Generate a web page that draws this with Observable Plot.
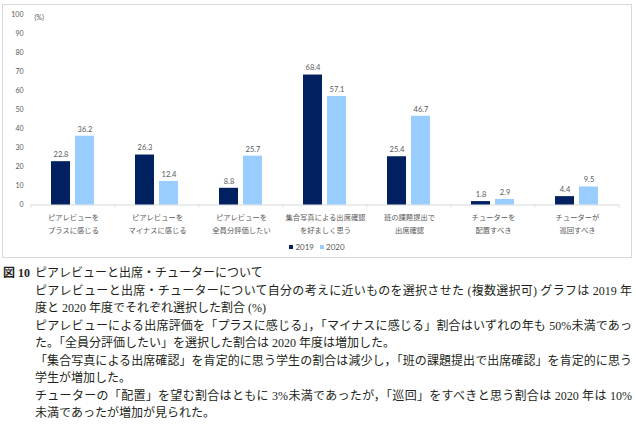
<!DOCTYPE html>
<html><head><meta charset="utf-8">
<script src="https://cdn.jsdelivr.net/npm/d3@7"></script>
<script src="https://cdn.jsdelivr.net/npm/@observablehq/plot@0.6"></script>
<style>
html,body{margin:0;padding:0;background:#fff;}
body{width:636px;height:428px;overflow:hidden;position:relative;font-family:"Noto Sans CJK JP",sans-serif;}
#box{position:absolute;left:2px;top:4px;width:628px;height:252px;border:1px solid #d9d9d9;box-sizing:content-box;}
#chart{position:absolute;left:0;top:0;}
#legend{position:absolute;left:0;top:236px;width:628px;height:12px;line-height:12px;text-align:center;font-family:Lato,"Noto Sans CJK JP",sans-serif;font-size:8px;color:#595959;}
#legend span.item{display:inline-block;margin:0 3px;}
#legend span.sw{display:inline-block;width:4px;height:4px;margin-right:2px;vertical-align:middle;position:relative;top:-1px;}
#cap{position:absolute;left:0;top:265px;width:636px;color:#231f20;font-family:"Liberation Serif","Noto Sans CJK JP",serif;font-size:12px;line-height:17.5px;}
#cap .row{position:relative;height:17.5px;white-space:nowrap;}
#cap .t{position:absolute;left:35px;width:597px;}
#cap .j{text-align:justify;text-align-last:justify;}
#cap .fig{position:absolute;left:3px;font-weight:bold;}
</style>
</head>
<body>
<div id="box">
  <div id="chart"></div>
  <div id="legend"></div>
</div>
<div id="cap"></div>
<script>
// ---- data ----
const categories = [
  "ピアレビューを\nプラスに感じる",
  "ピアレビューを\nマイナスに感じる",
  "ピアレビューを\n全員分評価したい",
  "集合写真による出席確認\nを好ましく思う",
  "班の課題提出で\n出席確認",
  "チューターを\n配置すべき",
  "チューターが\n巡回すべき"
];
const years = ["2019", "2020"];
const values2019 = [22.8, 26.3, 8.8, 68.4, 25.4, 1.8, 4.4];
const values2020 = [36.2, 12.4, 25.7, 57.1, 46.7, 2.9, 9.5];
const yTicks = [0, 10, 20, 30, 40, 50, 60, 70, 80, 90, 100];
const colors = ["#002060", "#99ccff"];
const figLabel = "図 10";
const captionLines = [
  "ピアレビューと出席・チューターについて",
  "ピアレビューと出席・チューターについて自分の考えに近いものを選択させた (複数選択可) グラフは 2019 年",
  "度と 2020 年度でそれぞれ選択した割合 (%)",
  "ピアレビューによる出席評価を「プラスに感じる」，「マイナスに感じる」割合はいずれの年も 50%未満であっ",
  "た。「全員分評価したい」を選択した割合は 2020 年度は増加した。",
  "「集合写真による出席確認」を肯定的に思う学生の割合は減少し，「班の課題提出で出席確認」を肯定的に思う",
  "学生が増加した。",
  "チューターの「配置」を望む割合はともに 3%未満であったが，「巡回」をすべきと思う割合は 2020 年は 10%",
  "未満であったが増加が見られた。"
];
const justified = [false, true, false, true, false, true, false, true, false];

// ---- table ----
const rows = [];
categories.forEach((c, i) => {
  rows.push({category: c, year: years[0], value: values2019[i]});
  rows.push({category: c, year: years[1], value: values2020[i]});
});

// layout constants
const W = 628, H = 236, mL = 25, mR = 9, mT = 9.5, mB = 36.5;
const pInner = 0.204, pOuter = 0.834;
const fw = (W - mL - mR) / categories.length;
const step = fw / (years.length - pInner + 2 * pOuter);
const half = step * (1 - pInner) / 2;
const off = pOuter * step + half;

const grid = "#d9d9d9";
const txt = "#595959";

const chart = Plot.plot({
  width: W, height: H,
  marginLeft: mL, marginRight: mR, marginTop: mT, marginBottom: mB,
  style: {fontFamily: 'Lato, "Noto Sans CJK JP", sans-serif', fontSize: "7px", color: txt, background: "transparent"},
  fx: {domain: categories, padding: 0, axis: null, label: null},
  x: {domain: years, paddingInner: pInner, paddingOuter: pOuter, axis: null, label: null},
  y: {domain: [0, 100], ticks: yTicks, tickSize: 0, tickPadding: 8, label: null},
  color: {domain: years, range: colors},
  marks: [
    Plot.ruleY([0], {stroke: grid, strokeWidth: 1}),
    Plot.ruleX(categories, {fx: d => d, x: () => years[0], y1: () => 0, y2: () => 0, insetBottom: -3, dx: -off, stroke: grid}),
    Plot.ruleX([categories[categories.length - 1]], {fx: d => d, x: () => years[1], y1: () => 0, y2: () => 0, insetBottom: -3, dx: off, stroke: grid}),
    Plot.barY(rows, {fx: "category", x: "year", y: "value", fill: "year"}),
    Plot.text(rows, {fx: "category", x: "year", y: "value", text: d => d.value.toFixed(1), dy: -7, fill: txt, fontSize: 7.5}),
    Plot.text(categories, {fx: d => d, frameAnchor: "bottom", lineAnchor: "middle", text: d => d, dy: 17.3, lineHeight: 1.73, fontSize: 7.3, fill: txt, fontFamily: '"Noto Sans CJK JP", sans-serif'}),
    Plot.text(["(%)"], {fx: () => categories[0], frameAnchor: "top-left", text: d => d, dx: 3, fill: txt, fontSize: 7, textAnchor: "start"})
  ]
});
document.getElementById("chart").appendChild(chart);

// legend
const lg = document.getElementById("legend");
years.forEach((y, i) => {
  const it = document.createElement("span");
  it.className = "item";
  const sw = document.createElement("span");
  sw.className = "sw";
  sw.style.background = colors[i];
  it.appendChild(sw);
  it.appendChild(document.createTextNode(y));
  lg.appendChild(it);
});

// caption
const cap = document.getElementById("cap");
captionLines.forEach((line, i) => {
  const row = document.createElement("div");
  row.className = "row";
  if (i === 0) {
    const f = document.createElement("span");
    f.className = "fig";
    f.textContent = figLabel;
    row.appendChild(f);
  }
  const t = document.createElement("div");
  t.className = "t" + (justified[i] ? " j" : "");
  t.textContent = line;
  row.appendChild(t);
  cap.appendChild(row);
});
</script>
</body></html>
